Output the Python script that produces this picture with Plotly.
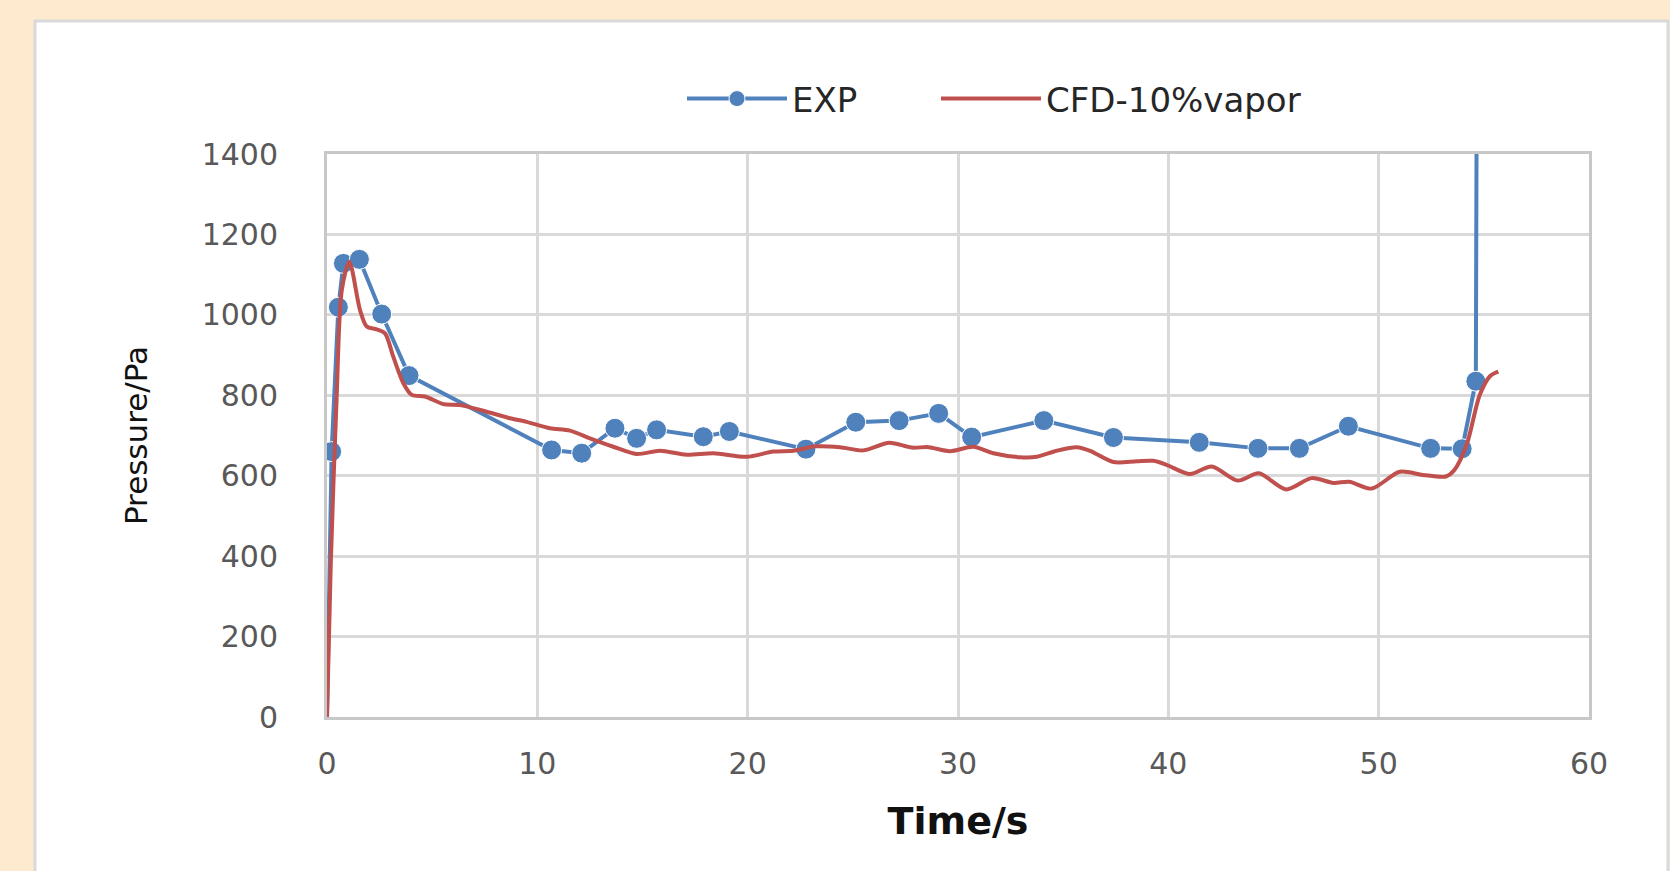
import plotly.graph_objects as go

# ---- data ----
exp_time = [0, 0.22, 0.54, 0.78, 1.54, 2.6, 3.9, 10.68, 12.11, 13.69, 14.72, 15.67,
            17.89, 19.13, 22.77, 25.14, 27.2, 29.08, 30.65, 34.08, 37.39, 41.47,
            44.26, 46.23, 48.56, 52.47, 53.97, 54.62, 54.72]
exp_pressure = [0, 660, 1019, 1128, 1138, 1002, 849, 664, 656, 718, 693, 714,
                697, 710, 666, 733, 737, 755, 696, 737, 695, 683,
                668, 668, 723, 668, 667, 835, 2600]

cfd_time = [0, 0.18, 0.46, 0.7, 1.06, 1.57, 1.89, 2.36, 2.76, 3.15, 3.63, 4.03,
            4.66, 5.53, 6.32, 7.59, 8.7, 9.49, 10.6, 11.55, 12.5, 13.61, 14.72,
            15.83, 17.1, 18.37, 19.95, 21.22, 22.17, 23.2, 24.39, 25.5, 26.73,
            27.8, 28.6, 29.62, 30.73, 31.68, 32.95, 33.74, 34.69, 35.64, 36.28,
            37.39, 38.5, 39.29, 39.92, 41.03, 42.06, 43.3, 44.3, 45.6, 46.81,
            47.85, 48.6, 49.67, 51.0, 52.1, 53.2, 53.6, 54.2, 54.8, 55.3, 55.69]
cfd_pressure = [0, 383, 797, 1060, 1132, 1012, 971, 964, 954, 896, 830, 801,
                797, 778, 776, 759, 743, 734, 718, 712, 693, 672, 654,
                662, 652, 656, 647, 660, 662, 673, 671, 663, 682,
                670, 671, 661, 672, 656, 646, 647, 662, 671, 662,
                634, 636, 637, 627, 604, 623, 588, 606, 566, 594,
                582, 585, 568, 610, 602, 598, 614, 680, 800, 848, 859]

x_ticks = [0, 10, 20, 30, 40, 50, 60]
y_ticks = [0, 200, 400, 600, 800, 1000, 1200, 1400]

# ---- styling ----
W, H = 1670, 871
L, R, T, B = 327, 81, 154, 154
pw, ph = W - L - R, H - T - B

def px_x(p):
    return (p - L) / pw

def px_y(p):
    return (H - B - p) / ph

fig = go.Figure()
fig.add_trace(go.Scatter(
    x=exp_time, y=exp_pressure, name="EXP", mode="lines+markers",
    line=dict(color="#4F81BD", width=4),
    marker=dict(color="#4F81BD", size=[0] + [20] * (len(exp_time) - 1),
                symbol="circle", opacity=1),
    legend="legend",
))
fig.add_trace(go.Scatter(
    x=cfd_time, y=cfd_pressure, name="CFD-10%vapor", mode="lines",
    line=dict(color="#C0504D", width=4, shape="spline", smoothing=0.8),
    legend="legend2",
))

# white chart panel on peach page
fig.add_shape(type="rect", xref="paper", yref="paper",
              x0=px_x(35), x1=px_x(1668), y0=px_y(880), y1=px_y(21),
              fillcolor="white", line=dict(color="#D9D9D9", width=3), layer="below")

legend_common = dict(orientation="h", xanchor="left", y=px_y(99), yanchor="middle",
                     font=dict(family="DejaVu Sans", size=34, color="#262626"),
                     bgcolor="rgba(0,0,0,0)", itemwidth=100)

tick_font = dict(family="DejaVu Sans", size=30, color="#595959")
fig.update_layout(
    width=W, height=H,
    margin=dict(l=L, r=R, t=T, b=B, autoexpand=False),
    paper_bgcolor="#FEEBCF",
    plot_bgcolor="white",
    showlegend=True,
    legend=dict(x=px_x(682), **legend_common),
    legend2=dict(x=px_x(936), **legend_common),
    xaxis=dict(range=[0, 60], tickvals=x_ticks, ticktext=[str(v) for v in x_ticks],
               showgrid=True, gridcolor="#D9D9D9", gridwidth=3,
               showline=True, linecolor="#C8C8C8", linewidth=3, mirror=True,
               zeroline=False, ticks="", tickfont=tick_font, ticklabelstandoff=18,
               title=dict(text="<b>Time/s</b>", font=dict(family="DejaVu Sans", size=38, color="#111111"),
                          standoff=28)),
    yaxis=dict(range=[0, 1400], tickvals=y_ticks, ticktext=[str(v) for v in y_ticks],
               showgrid=True, gridcolor="#D9D9D9", gridwidth=3,
               showline=True, linecolor="#C8C8C8", linewidth=3, mirror=True,
               zeroline=False, ticks="", tickfont=tick_font, ticklabelstandoff=40,
               title=dict(text="Pressure/Pa", font=dict(family="DejaVu Sans", size=31, color="#111111"),
                          standoff=45)),
)

fig.write_html("out.html", config={"displayModeBar": False},
               post_script="document.body.style.margin='0';")
